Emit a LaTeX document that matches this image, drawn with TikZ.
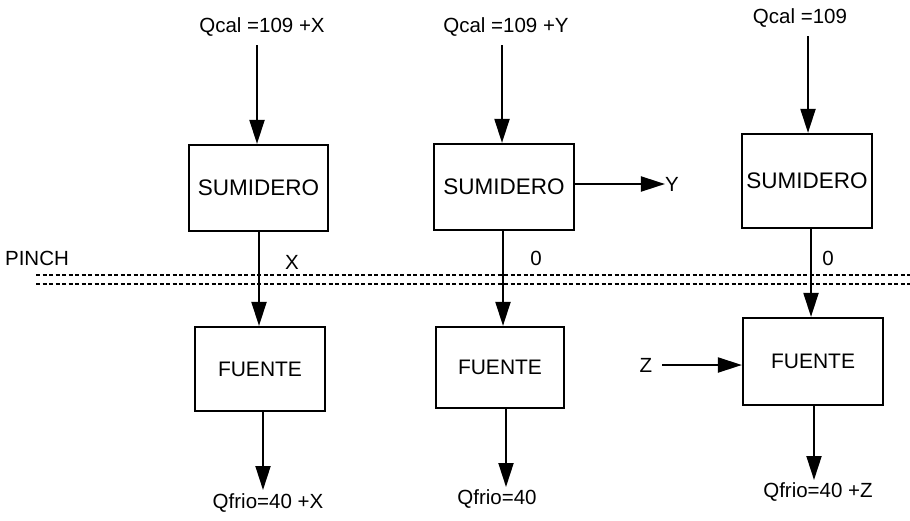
\documentclass[tikz,border=0pt]{standalone}
\usepackage{fontspec}
\setmainfont{Liberation Sans}
\usetikzlibrary{arrows.meta}
\begin{document}
\begin{tikzpicture}[x=1pt,y=-1pt,
  boxst/.style={draw,line width=2.2pt,inner sep=0pt,font=\fontsize{22.5}{24}\selectfont},
  lab/.style={inner sep=0pt,font=\fontsize{20.5}{22}\selectfont},
  arr/.style={line width=2pt,-{Triangle[length=24pt,width=15pt]}},
  pinchline/.style={line width=1.2pt,dash pattern=on 4pt off 2.5pt}]
\useasboundingbox (0,0) rectangle (910,520);
% boxes
\node[boxst,minimum width=139pt,minimum height=86pt] (s1) at (258.5,188) {SUMIDERO};
\node[boxst,minimum width=140pt,minimum height=86pt] (s2) at (504,187) {SUMIDERO};
\node[boxst,minimum width=130pt,minimum height=94pt] (s3) at (807,181) {SUMIDERO};
\node[boxst,minimum width=130pt,minimum height=84pt,font=\fontsize{21}{23}\selectfont] (f1) at (260,369) {FUENTE};
\node[boxst,minimum width=128pt,minimum height=81pt,font=\fontsize{21}{23}\selectfont] (f2) at (500,367.5) {FUENTE};
\node[boxst,minimum width=140pt,minimum height=87pt,font=\fontsize{21}{23}\selectfont] (f3) at (813,361.5) {FUENTE};
% labels
\node[lab] (qc1) at (262,27) {Qcal =109 +X};
\node[lab] (qc2) at (506,27) {Qcal =109 +Y};
\node[lab] (qc3) at (800,18) {Qcal =109};
\node[lab] (qf1) at (268,503) {Qfrio=40 +X};
\node[lab] (qf2) at (497,499) {Qfrio=40};
\node[lab] (qf3) at (818,492) {Qfrio=40 +Z};
\node[lab] (pinch) at (37,258) {PINCH};
\node[lab] (lx) at (292,262) {X};
\node[lab] (l01) at (536,258) {0};
\node[lab] (l02) at (828,258) {0};
\node[lab] (ly) at (672,184) {Y};
\node[lab] (lz) at (646,365) {Z};
% pinch lines
\coordinate (p1a) at (36,275); \coordinate (p1b) at (910,275);
\coordinate (p2a) at (36,284); \coordinate (p2b) at (910,284);
\draw[pinchline] (p1a) -- (p1b);
\draw[pinchline] (p2a) -- (p2b);
% top arrows
\coordinate (a1) at (257,45);
\coordinate (a2) at (502,45);
\coordinate (a3) at (808,36);
\draw[arr] (a1) -- (a1 |- s1.north);
\draw[arr] (a2) -- (a2 |- s2.north);
\draw[arr] (a3) -- (a3 |- s3.north);
% middle arrows
\coordinate (m1) at (259,0);
\coordinate (m2) at (503,0);
\coordinate (m3) at (811,0);
\draw[arr] (m1 |- s1.south) -- (m1 |- f1.north);
\draw[arr] (m2 |- s2.south) -- (m2 |- f2.north);
\draw[arr] (m3 |- s3.south) -- (m3 |- f3.north);
% bottom arrows
\coordinate (b1) at (263,490);
\coordinate (b2) at (506,487);
\coordinate (b3) at (814,480);
\draw[arr] (b1 |- f1.south) -- (b1);
\draw[arr] (b2 |- f2.south) -- (b2);
\draw[arr] (b3 |- f3.south) -- (b3);
% side arrows
\draw[arr] (s2.east |- ly) -- (ly.west);
\draw[arr] ([xshift=10pt]lz.east) -- (f3.west |- lz);
\end{tikzpicture}
\end{document}
